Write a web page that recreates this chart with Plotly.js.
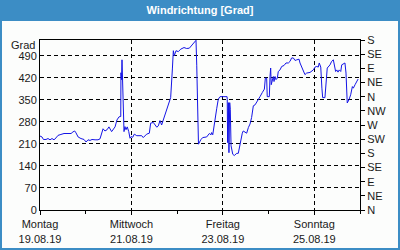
<!DOCTYPE html>
<html>
<head>
<meta charset="utf-8">
<script src="https://cdn.plot.ly/plotly-3.0.1.min.js"></script>
<style>html,body{margin:0;padding:0;background:#3c8dc5;}#chart{width:400px;height:250px;}</style>
</head>
<body>
<div id="chart"></div>
<script>
const times = [
"2019-08-19 00:00","2019-08-19 01:03","2019-08-19 01:48","2019-08-19 03:09","2019-08-19 04:12","2019-08-19 05:15","2019-08-19 06:18","2019-08-19 07:21","2019-08-19 08:24","2019-08-19 09:27",
"2019-08-19 11:00","2019-08-19 12:36","2019-08-19 14:42","2019-08-19 16:18","2019-08-19 17:18","2019-08-19 18:12","2019-08-19 18:54","2019-08-19 20:00","2019-08-19 21:30","2019-08-19 23:06",
"2019-08-20 00:12","2019-08-20 01:12","2019-08-20 02:15","2019-08-20 03:18","2019-08-20 04:54","2019-08-20 06:27","2019-08-20 07:30","2019-08-20 08:18","2019-08-20 09:06","2019-08-20 10:06",
"2019-08-20 11:12","2019-08-20 12:12","2019-08-20 13:36","2019-08-20 15:24","2019-08-20 16:24","2019-08-20 17:30","2019-08-20 18:24","2019-08-20 18:30","2019-08-20 18:48","2019-08-20 19:03",
"2019-08-20 19:24","2019-08-20 19:42","2019-08-20 20:06","2019-08-20 20:36","2019-08-20 21:09","2019-08-20 21:48","2019-08-20 22:36","2019-08-20 23:15","2019-08-20 23:48","2019-08-21 00:42",
"2019-08-21 01:30","2019-08-21 02:48","2019-08-21 05:24","2019-08-21 06:12","2019-08-21 08:00","2019-08-21 09:24","2019-08-21 10:06","2019-08-21 11:30","2019-08-21 12:24","2019-08-21 13:18",
"2019-08-21 14:06","2019-08-21 15:00","2019-08-21 15:51","2019-08-21 16:42","2019-08-21 17:36","2019-08-21 18:30","2019-08-21 19:24","2019-08-21 20:36","2019-08-21 21:30","2019-08-21 22:00",
"2019-08-21 22:30","2019-08-21 23:24","2019-08-22 00:36","2019-08-22 01:54","2019-08-22 03:36","2019-08-22 05:00","2019-08-22 06:24","2019-08-22 07:36","2019-08-22 09:00","2019-08-22 09:54",
"2019-08-22 10:18","2019-08-22 10:48","2019-08-22 11:12","2019-08-22 12:24","2019-08-22 13:24","2019-08-22 15:30","2019-08-22 16:54","2019-08-22 17:48","2019-08-22 18:06","2019-08-22 18:42",
"2019-08-22 19:30","2019-08-22 20:12","2019-08-22 20:48","2019-08-22 21:36","2019-08-22 22:30","2019-08-23 02:12","2019-08-23 02:18","2019-08-23 02:30","2019-08-23 02:54","2019-08-23 03:12",
"2019-08-23 03:36","2019-08-23 03:54","2019-08-23 04:18","2019-08-23 04:36","2019-08-23 05:12","2019-08-23 06:00","2019-08-23 07:18","2019-08-23 08:06","2019-08-23 08:36","2019-08-23 09:24",
"2019-08-23 10:12","2019-08-23 10:42","2019-08-23 11:36","2019-08-23 12:30","2019-08-23 13:24","2019-08-23 14:15","2019-08-23 15:06","2019-08-23 16:00","2019-08-23 16:54","2019-08-23 18:06",
"2019-08-23 19:30","2019-08-23 20:42","2019-08-23 21:48","2019-08-23 22:18","2019-08-23 23:00","2019-08-23 23:18","2019-08-24 00:24","2019-08-24 00:45","2019-08-24 01:06","2019-08-24 01:24",
"2019-08-24 02:00","2019-08-24 02:30","2019-08-24 02:51","2019-08-24 03:24","2019-08-24 03:54","2019-08-24 04:36","2019-08-24 05:06","2019-08-24 06:00","2019-08-24 06:54","2019-08-24 08:06",
"2019-08-24 09:09","2019-08-24 10:24","2019-08-24 11:15","2019-08-24 12:06","2019-08-24 13:00","2019-08-24 13:54","2019-08-24 14:48","2019-08-24 16:00","2019-08-24 16:30","2019-08-24 17:24",
"2019-08-24 18:12","2019-08-24 19:06","2019-08-24 20:00","2019-08-24 21:45","2019-08-24 23:30","2019-08-25 00:24","2019-08-25 01:18","2019-08-25 02:06","2019-08-25 02:36","2019-08-25 03:24",
"2019-08-25 04:00","2019-08-25 04:24","2019-08-25 05:36","2019-08-25 06:09","2019-08-25 06:48","2019-08-25 08:15","2019-08-25 09:06","2019-08-25 10:00","2019-08-25 10:30","2019-08-25 11:12",
"2019-08-25 11:48","2019-08-25 12:27","2019-08-25 13:06","2019-08-25 13:54","2019-08-25 14:24","2019-08-25 15:12","2019-08-25 16:06","2019-08-25 16:39","2019-08-25 17:00","2019-08-25 17:18",
"2019-08-25 18:12","2019-08-25 19:06","2019-08-25 20:00","2019-08-25 20:30","2019-08-25 21:24","2019-08-25 22:18","2019-08-25 23:00"
];
const grad = [
235,232,224,224,227,223,227,223,229,237,
240,243,243,243,248,251,245,232,227,224,
216,223,221,224,223,223,226,245,258,251,
255,264,249,264,286,296,297,436,414,477,
414,297,249,265,255,264,249,228,233,231,
241,236,236,230,241,244,276,278,270,263,
267,284,270,286,302,324,341,357,448,506,
490,506,503,511,516,513,514,522,530,539,
458,267,209,223,230,232,243,239,246,239,
278,299,323,352,360,360,352,214,341,182,
341,320,204,188,177,173,180,180,198,220,
244,251,246,244,262,273,294,331,334,348,
360,373,384,419,419,360,360,424,451,398,
414,424,408,424,414,419,440,445,456,459,
467,467,472,483,483,475,477,479,467,454,
440,430,435,437,445,454,456,454,467,454,
387,357,357,414,451,461,472,477,458,440,
445,438,445,440,461,464,467,435,376,340,
350,366,392,387,398,408,416
];
const leftTicks = [0,70,140,210,280,350,420,490];
const dirTickVals = [0,45,90,135,180,225,270,315,360,405,450,495,540];
const dirTickText = ["N","NE","E","SE","S","SW","W","NW","N","NE","E","SE","S"];
const dayTickVals = ["2019-08-19","2019-08-21","2019-08-23","2019-08-25"];
const dayTickText = ["Montag<br>19.08.19","Mittwoch<br>21.08.19","Freitag<br>23.08.19","Sonntag<br>25.08.19"];

const font = {family: "Liberation Sans, Arial, sans-serif", size: 11, color: "#1a1a1a"};

const trace = {
  x: times, y: grad, type: "scatter", mode: "lines",
  line: {color: "#1414e6", width: 1}, hoverinfo: "skip", showlegend: false
};
const dummy = {x: [times[0]], y: [0], yaxis: "y2", type: "scatter", mode: "lines",
  line: {color: "rgba(0,0,0,0)"}, hoverinfo: "skip", showlegend: false};

const layout = {
  width: 400, height: 250,
  margin: {l: 40, r: 40, t: 40, b: 40},
  paper_bgcolor: "#3c8dc5",
  plot_bgcolor: "#fcfdfc",
  font: font,
  title: {text: "<b>Windrichtung [Grad]</b>", font: {family: "Liberation Sans, Arial, sans-serif", size: 11, color: "#ffffff"},
    x: 0.5, xanchor: "center", y: 0.958, yref: "container", yanchor: "middle"},
  xaxis: {
    type: "date", range: ["2019-08-19 00:00", "2019-08-26 00:00"],
    tickmode: "array", tickvals: dayTickVals, ticktext: dayTickText,
    ticks: "outside", ticklen: 4, tickcolor: "#000", tickwidth: 1,
    showgrid: true, gridcolor: "#000", gridwidth: 1, griddash: "4px,3px",
    showline: true, linecolor: "#000", linewidth: 1, mirror: true,
    zeroline: false, tickfont: font, fixedrange: true,
    minor: {dtick: 86400000, tick0: "2019-08-19", ticks: "outside", ticklen: 3, tickcolor: "#000", showgrid: false}
  },
  yaxis: {
    range: [0, 540], tickmode: "array", tickvals: leftTicks,
    ticks: "", showgrid: true, gridcolor: "#000", gridwidth: 1, griddash: "4px,3px",
    showline: true, linecolor: "#000", linewidth: 1, mirror: true,
    zeroline: false, tickfont: font, fixedrange: true
  },
  yaxis2: {
    overlaying: "y", side: "right", range: [0, 540],
    tickmode: "array", tickvals: dirTickVals, ticktext: dirTickText,
    ticks: "outside", ticklen: 4, tickcolor: "#000",
    showgrid: false, zeroline: false, showline: true, linecolor: "#000",
    tickfont: font, fixedrange: true
  },
  annotations: [{text: "Grad", xref: "paper", yref: "y", x: 0, y: 525, xanchor: "right", yanchor: "middle",
    xshift: -3, showarrow: false, font: font}],
  shapes: [{type: "rect", xref: "paper", yref: "paper", x0: -0.11875, x1: 1.11875, y0: -0.2235, y1: 1.1118,
    fillcolor: "#fcfdfc", line: {width: 0}, layer: "below"}]
};

Plotly.newPlot("chart", [trace, dummy], layout, {staticPlot: true, displayModeBar: false});
</script>
</body>
</html>
